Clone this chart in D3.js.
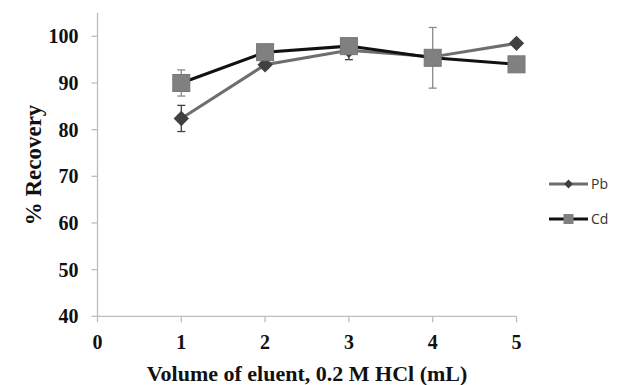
<!DOCTYPE html>
<html>
<head>
<meta charset="utf-8" />
<style>
  body { margin: 0; background: #fff; }
  text.tick-label { font-family: "Liberation Serif", "Times New Roman", serif; font-weight: bold; font-size: 20px; fill: #111; }
  text.axis-title { font-family: "Liberation Serif", "Times New Roman", serif; font-weight: bold; font-size: 22px; fill: #111; }
  text.legend { font-family: "Open Sans", "Liberation Sans", sans-serif; font-size: 14px; fill: #333; }
</style>
</head>
<body>
<div id="chart"></div>
<script src="https://cdnjs.cloudflare.com/ajax/libs/d3/7.8.5/d3.min.js"></script>
<script>
const volumes = [1, 2, 3, 4, 5];
const pbValues = [82.4, 93.9, 97.0, 95.6, 98.5];
const pbErrors = [2.8, 0.8, 2.0, 0, 0];
const cdValues = [90.0, 96.6, 97.9, 95.4, 94.0];
const cdErrors = [2.8, 0.6, 0.8, 6.5, 0];
const xTicks = [0, 1, 2, 3, 4, 5];
const yTicks = [40, 50, 60, 70, 80, 90, 100];

const width = 622, height = 385;
const svg = d3.select("#chart").append("svg")
  .attr("width", width).attr("height", height);

const x = d3.scaleLinear().domain([0, 5]).range([97.5, 516.5]);
const y = d3.scaleLinear().domain([40, 105]).range([316.3, 13]);

const axisColor = "#bdbdbd";

// axes
svg.append("line")
  .attr("x1", x(0)).attr("x2", x(0))
  .attr("y1", y(105)).attr("y2", y(40))
  .attr("stroke", axisColor).attr("stroke-width", 1.3);
svg.append("line")
  .attr("x1", x(0)).attr("x2", x(5))
  .attr("y1", y(40)).attr("y2", y(40))
  .attr("stroke", axisColor).attr("stroke-width", 1.3);

svg.selectAll("line.ytick").data(yTicks).join("line")
  .attr("class", "ytick")
  .attr("x1", x(0) - 6).attr("x2", x(0))
  .attr("y1", d => y(d)).attr("y2", d => y(d))
  .attr("stroke", axisColor).attr("stroke-width", 1.3);
svg.selectAll("line.xtick").data(xTicks).join("line")
  .attr("class", "xtick")
  .attr("x1", d => x(d)).attr("x2", d => x(d))
  .attr("y1", y(40)).attr("y2", y(40) + 6)
  .attr("stroke", axisColor).attr("stroke-width", 1.3);

svg.selectAll("text.ylab").data(yTicks).join("text")
  .attr("class", "tick-label ylab")
  .attr("x", x(0) - 19).attr("y", d => y(d) + 7)
  .attr("text-anchor", "end")
  .text(d => d);
svg.selectAll("text.xlab").data(xTicks).join("text")
  .attr("class", "tick-label xlab")
  .attr("x", d => x(d)).attr("y", y(40) + 33)
  .attr("text-anchor", "middle")
  .text(d => d);

svg.append("text").attr("class", "axis-title")
  .attr("transform", `translate(41,165) rotate(-90)`)
  .attr("text-anchor", "middle")
  .style("font-size", "23px")
  .text("% Recovery");
svg.append("text").attr("class", "axis-title")
  .attr("x", 307).attr("y", 381)
  .attr("text-anchor", "middle")
  .text("Volume of eluent, 0.2 M HCl (mL)");

const line = d3.line().x(d => x(d[0])).y(d => y(d[1]));

function drawErrors(vals, errs, color) {
  const data = volumes.map((v, i) => ({ v, val: vals[i], e: errs[i] })).filter(d => d.e > 0);
  const g = svg.append("g").attr("stroke", color).attr("stroke-width", 1.3);
  g.selectAll("line.bar").data(data).join("line")
    .attr("x1", d => x(d.v)).attr("x2", d => x(d.v))
    .attr("y1", d => y(d.val + d.e)).attr("y2", d => y(d.val - d.e));
  [1, -1].forEach(s => {
    g.selectAll("line.cap" + s).data(data).join("line")
      .attr("x1", d => x(d.v) - 4).attr("x2", d => x(d.v) + 4)
      .attr("y1", d => y(d.val + s * d.e)).attr("y2", d => y(d.val + s * d.e));
  });
}

// Pb series
const pbData = volumes.map((v, i) => [v, pbValues[i]]);
const cdData = volumes.map((v, i) => [v, cdValues[i]]);

drawErrors(pbValues, pbErrors, "#404040");
svg.append("path").datum(pbData)
  .attr("d", line).attr("fill", "none")
  .attr("stroke", "#6e6e6e").attr("stroke-width", 3);
svg.selectAll("path.pb").data(pbData).join("path")
  .attr("class", "pb")
  .attr("d", d3.symbol(d3.symbolDiamond2, 150))
  .attr("transform", d => `translate(${x(d[0])},${y(d[1])})`)
  .attr("fill", "#404040");

// Cd series
drawErrors(cdValues, cdErrors, "#8a8a8a");
svg.append("path").datum(cdData)
  .attr("d", line).attr("fill", "none")
  .attr("stroke", "#111").attr("stroke-width", 3);
svg.selectAll("rect.cd").data(cdData).join("rect")
  .attr("class", "cd")
  .attr("x", d => x(d[0]) - 8.5).attr("y", d => y(d[1]) - 8.5)
  .attr("width", 17).attr("height", 17)
  .attr("fill", "#808080").attr("stroke", "#767676").attr("stroke-width", 1);

// legend
const legend = [
  { name: "Pb", y: 184, line: "#6e6e6e" },
  { name: "Cd", y: 219, line: "#111" }
];
legend.forEach(l => {
  svg.append("line")
    .attr("x1", 549).attr("x2", 588).attr("y1", l.y).attr("y2", l.y)
    .attr("stroke", l.line).attr("stroke-width", 3);
  svg.append("text").attr("class", "legend")
    .attr("x", 591).attr("y", l.y + 5).text(l.name);
});
svg.append("path")
  .attr("d", d3.symbol(d3.symbolDiamond2, 50))
  .attr("transform", "translate(568.5,184)")
  .attr("fill", "#404040");
svg.append("rect")
  .attr("x", 563.5).attr("y", 214).attr("width", 10).attr("height", 10)
  .attr("fill", "#808080");
</script>
</body>
</html>
